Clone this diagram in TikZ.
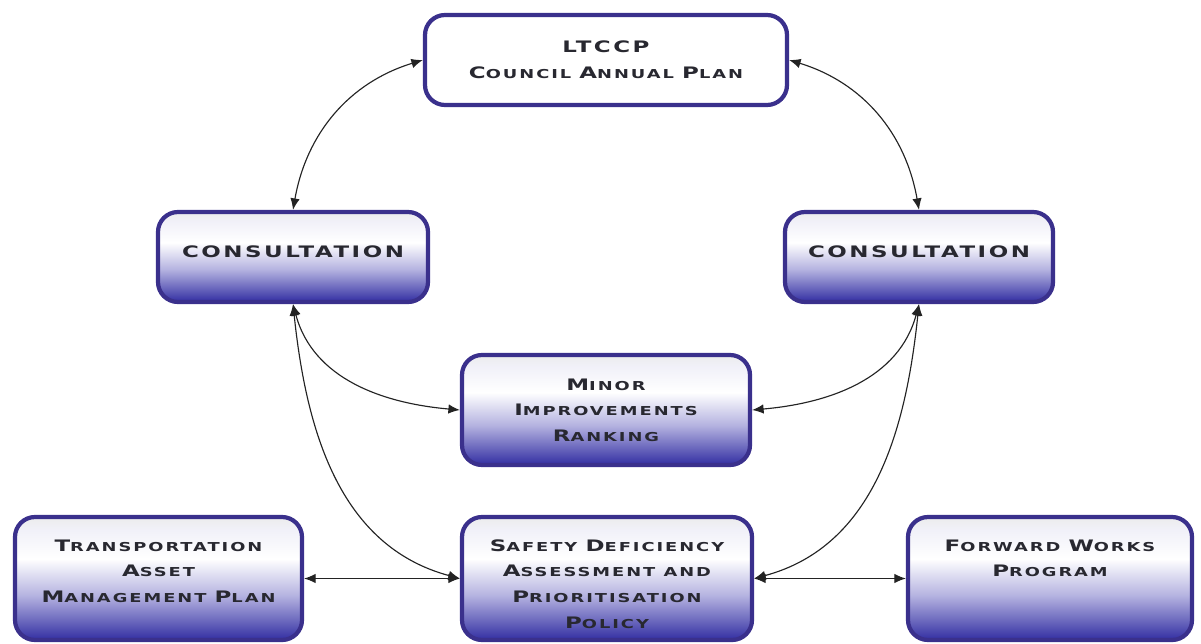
\documentclass[tikz,border=0pt]{standalone}
\usepackage{fontspec}
\usetikzlibrary{arrows.meta}

\newfontfamily\boxfont{DejaVu Sans}[FakeStretch=1.45,LetterSpace=16]
% initial capital followed by small capitals
\newcommand\initcap[2]{{\fontsize{9}{14.6}\selectfont #1}\MakeUppercase{#2}}

\definecolor{boxedge}{RGB}{58,48,140}
\definecolor{boxblue}{RGB}{50,46,162}
\definecolor{boxmid}{RGB}{180,178,224}
\definecolor{inktext}{RGB}{40,40,48}
\definecolor{arrowink}{RGB}{35,35,35}

\pgfdeclareverticalshading{boxshade}{100bp}{color(0bp)=(boxblue); color(25bp)=(boxblue);
  color(43bp)=(boxmid); color(58bp)=(white); color(70bp)=(white!93!boxblue);
  color(75bp)=(white!85!gray); color(100bp)=(white!85!gray)}

\tikzset{
  planbox/.style={draw=boxedge, line width=2.4pt, rounded corners=0.4cm, fill=white,
    text=inktext, font=\boxfont\bfseries\fontsize{7}{14.6}\selectfont, align=center},
  stagebox/.style={planbox, shading=boxshade},
  link/.style={<->, >={Latex[length=2.3mm,width=1.9mm]}, draw=arrowink, line width=0.65pt}
}

\begin{document}
\begin{tikzpicture}

    % Fix the frame of the picture
    \useasboundingbox (0,0) rectangle (24.02,-12.88);

    % Top of the cycle
    \node[planbox, minimum width=7.24cm, minimum height=1.8cm] (ltccp) at (12.12,-1.2)
        {{\fontsize{9}{14.6}\selectfont LTCCP}\\\initcap{C}{ouncil} \initcap{A}{nnual} \initcap{P}{lan}};

    % Consultation on both sides
    \node[stagebox, minimum width=5.4cm, minimum height=1.8cm] (consL) at (5.86,-5.14)
        {\fontsize{9}{14.6}\selectfont\raisebox{0pt}[0pt][0pt]{CONSULTATION}};
    \node[stagebox, minimum width=5.36cm, minimum height=1.8cm] (consR) at (18.38,-5.14)
        {\fontsize{9}{14.6}\selectfont\raisebox{0pt}[0pt][0pt]{CONSULTATION}};

    % Middle of the cycle
    \node[stagebox, minimum width=5.76cm, minimum height=2.2cm] (minor) at (12.12,-8.2)
        {\initcap{M}{inor}\\\initcap{I}{mprovements}\\\initcap{R}{anking}};

    % Bottom row, text set from the top
    \node[stagebox, inner xsep=0.1cm, inner ysep=0.45cm] (tamp) at (3.17,-11.57)
        {\parbox[c][1.56cm][t]{5.54cm}{\centering
         \initcap{T}{ransportation}\\\initcap{A}{sset}\\\initcap{M}{anagement} \initcap{P}{lan}}};
    \node[stagebox, inner xsep=0.1cm, inner ysep=0.45cm] (safety) at (12.14,-11.57)
        {\parbox[c][1.56cm][t]{5.6cm}{\centering
         \initcap{S}{afety} \initcap{D}{eficiency}\\\initcap{A}{ssessment} \MakeUppercase{and}\\\initcap{P}{rioritisation}\\\initcap{P}{olicy}}};
    \node[stagebox, inner xsep=0.1cm, inner ysep=0.45cm] (fwp) at (21.0,-11.57)
        {\parbox[c][1.56cm][t]{5.48cm}{\centering
         \initcap{F}{orward} \initcap{W}{orks}\\\initcap{P}{rogram}}};

    % Links to the annual plan
    \draw[link] (consL.north) to[out=80,in=197] (ltccp.west);
    \draw[link] (consR.north) to[out=100,in=-17] (ltccp.east);

    % Links from consultation down to the rankings
    \draw[link] (consL.south) to[out=-75,in=175] (minor.west);
    \draw[link] (consL.south) to[out=-84,in=165] (safety.west);
    \draw[link] (consR.south) to[out=-105,in=5] (minor.east);
    \draw[link] (consR.south) to[out=-96,in=15] (safety.east);

    % Bottom row
    \draw[link] (tamp.east) -- (safety.west);
    \draw[link] (safety.east) -- (fwp.west);

\end{tikzpicture}
\end{document}
